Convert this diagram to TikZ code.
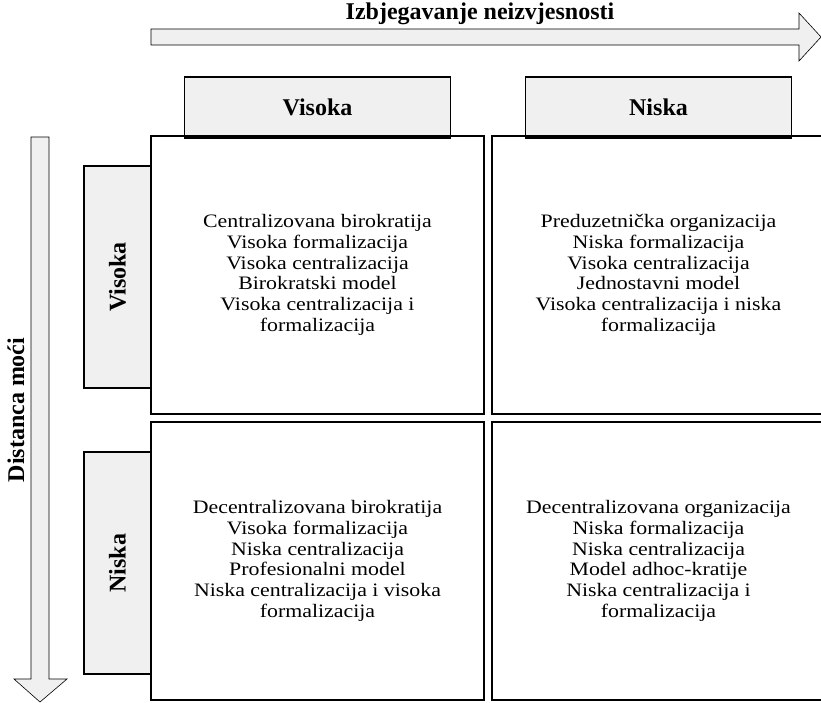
\documentclass[tikz,border=0pt]{standalone}
\usepackage{fontspec}
\setmainfont{Liberation Serif}
\newfontfamily\siroki[FakeStretch=1.15]{Liberation Serif}
\usepackage{tikz}

\definecolor{boxgray}{RGB}{240,240,240}

\begin{document}
\begin{tikzpicture}
  [x=1pt,y=-1pt,
   polje/.style={draw,line width=1.2pt,minimum width=333,minimum height=278,
     align=center,font=\siroki\fontsize{19}{20.8}\selectfont,inner sep=0pt},
   zaglavlje/.style={draw,line width=1.2pt,fill=boxgray,inner sep=0pt},
   natpis/.style={font=\fontsize{24}{26}\selectfont\bfseries},
   strelica/.style={draw,line width=0.6pt,fill=boxgray}]
  \useasboundingbox (0,0) rectangle (821,703);

  % strelice
  \draw[strelica] (151,29) -- (799,29) -- (799,13) -- (821,37) -- (799,61)
    -- (799,45) -- (151,45) -- cycle;
  \draw[strelica] (31,137) -- (31,679) -- (14,679) -- (40,702) -- (67,679)
    -- (49,679) -- (49,137) -- cycle;
  \node[natpis] (ui) at (480,14) {Izbjegavanje neizvjesnosti};
  \node[natpis,rotate=90] (dm) at (16,410) {Distanca moći};

  % zaglavlja
  \node[zaglavlje,minimum width=266,minimum height=61] (uiVis) at (317.5,107.5) {};
  \node[zaglavlje,minimum width=266,minimum height=61] (uiNis) at (658.5,107.5) {};
  \node[zaglavlje,minimum width=67,minimum height=222] (dmVis) at (117.5,277) {};
  \node[zaglavlje,minimum width=67,minimum height=222] (dmNis) at (117.5,563) {};
  \node[natpis] at (uiVis) {Visoka};
  \node[natpis] at (uiNis) {Niska};
  \node[natpis,rotate=90] at (dmVis) {Visoka};
  \node[natpis,rotate=90] at (dmNis) {Niska};

  % polja
  \node[polje] (p11) at (317.5,275) {Centralizovana birokratija\\Visoka formalizacija\\
    Visoka centralizacija\\Birokratski model\\Visoka centralizacija i\\formalizacija};
  \node[polje] (p12) at (658.5,275) {Preduzetnička organizacija\\Niska formalizacija\\
    Visoka centralizacija\\Jednostavni model\\Visoka centralizacija i niska\\formalizacija};
  \node[polje] (p21) at (317.5,561) {Decentralizovana birokratija\\Visoka formalizacija\\
    Niska centralizacija\\Profesionalni model\\Niska centralizacija i visoka\\formalizacija};
  \node[polje] (p22) at (658.5,561) {Decentralizovana organizacija\\Niska formalizacija\\
    Niska centralizacija\\Model adhoc-kratije\\Niska centralizacija i\\formalizacija};

\end{tikzpicture}
\end{document}
